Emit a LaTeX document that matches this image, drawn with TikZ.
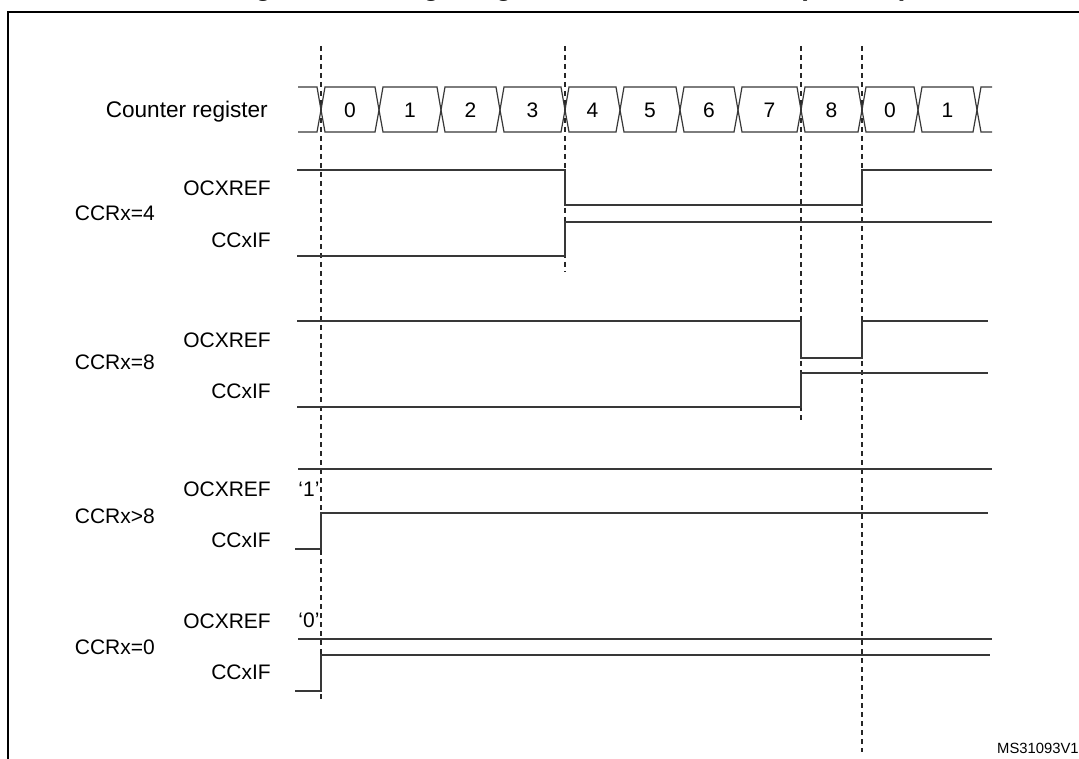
\documentclass[tikz,border=0pt]{standalone}
\usepackage{fontspec}
\setmainfont{Liberation Sans}
\begin{document}
\begin{tikzpicture}[x=1pt,y=-1pt,
  sig/.style={line width=1.3pt, draw=black!78, line join=miter},
  bus/.style={line width=1.2pt, draw=black!78, line join=miter},
  guide/.style={line width=1.1pt, draw=black!85, dash pattern=on 5pt off 4pt},
  lbl/.style={font=\fontsize{21}{25}\selectfont, inner sep=0pt},
  frame/.style={line width=2.4pt, draw=black}]
\useasboundingbox (0,0) rectangle (1079,759);
% title (mostly cut off at the top edge)
\node[font=\fontsize{27.8}{30}\selectfont\bfseries, inner sep=0pt, anchor=base west] (title) at (230,-4) {Figure 104. Edge-aligned PWM waveforms (ARR=8)};
% frame
\draw[frame] (1120,12) -- (8,12) -- (8,800);
% guide lines
\coordinate (g1t) at (321,46); \coordinate (g1b) at (321,702);
\coordinate (g2t) at (565,46); \coordinate (g2b) at (565,272);
\coordinate (g3t) at (801,46); \coordinate (g3b) at (801,420);
\coordinate (g4t) at (862,46); \coordinate (g4b) at (862,752);
\draw[guide] (g1t) -- (g1b);
\draw[guide] (g2t) -- (g2b);
\draw[guide] (g3t) -- (g3b);
\draw[guide] (g4t) -- (g4b);
% counter bus
\def\d{4}
\draw[bus] (298,87) -- (321-\d,87) -- (321,110) -- (321-\d,132) -- (298,132);
\foreach \a/\b/\v [count=\i] in {321/379/0,379/441/1,441/500/2,500/565/3,565/620/4,620/680/5,680/738/6,738/801/7,801/862/8,862/918/0,918/977/1}{
  \draw[bus] (\a,110) -- (\a+\d,87) -- (\b-\d,87) -- (\b,110) -- (\b-\d,132) -- (\a+\d,132) -- cycle;
  \node[lbl, anchor=base] (cnt\i) at ({(\a+\b)/2},117.5) {\v};
}
\draw[bus] (992,87) -- (977+\d,87) -- (977,110) -- (977+\d,132) -- (992,132);
% labels
\node[lbl, font=\fontsize{22.6}{26}\selectfont, anchor=base east] (cr) at (268,118) {Counter register};
\node[lbl, anchor=base east] (r4) at (155,220.5) {CCRx=4};
\node[lbl, anchor=base east] (r4o) at (271,195.5) {OCXREF};
\node[lbl, anchor=base east] (r4c) at (271,247.5) {CCxIF};
\node[lbl, anchor=base east] (r8) at (155,369.5) {CCRx=8};
\node[lbl, anchor=base east] (r8o) at (271,347.5) {OCXREF};
\node[lbl, anchor=base east] (r8c) at (271,398.5) {CCxIF};
\node[lbl, anchor=base east] (rg) at (155,523.5) {CCRx>8};
\node[lbl, anchor=base east] (rgo) at (271,496.5) {OCXREF};
\node[lbl, anchor=base east] (rgc) at (271,547.5) {CCxIF};
\node[lbl, anchor=base] (one) at (309,496.5) {‘1’};
\node[lbl, anchor=base east] (r0) at (155,654.5) {CCRx=0};
\node[lbl, anchor=base east] (r0o) at (271,628.5) {OCXREF};
\node[lbl, anchor=base east] (r0c) at (271,679.5) {CCxIF};
\node[lbl, anchor=base] (zero) at (309,627.5) {‘0’};
\node[font=\fontsize{14.8}{16}\selectfont, inner sep=0pt, anchor=base west] (ref) at (997,753) {MS31093V1};
% CCRx=4
\draw[sig] (297,170) -- (565,170) -- (565,205) -- (862,205) -- (862,170) -- (992,170);
\draw[sig] (297,256) -- (565,256) -- (565,222) -- (992,222);
% CCRx=8
\draw[sig] (297,321) -- (801,321) -- (801,358) -- (862,358) -- (862,321) -- (988,321);
\draw[sig] (297,407) -- (801,407) -- (801,373) -- (988,373);
% CCRx>8
\draw[sig] (298,469) -- (992,469);
\draw[sig] (295,549) -- (321,549) -- (321,513) -- (988,513);
% CCRx=0
\draw[sig] (298,639) -- (992,639);
\draw[sig] (295,691) -- (321,691) -- (321,655) -- (990,655);
\end{tikzpicture}
\end{document}
